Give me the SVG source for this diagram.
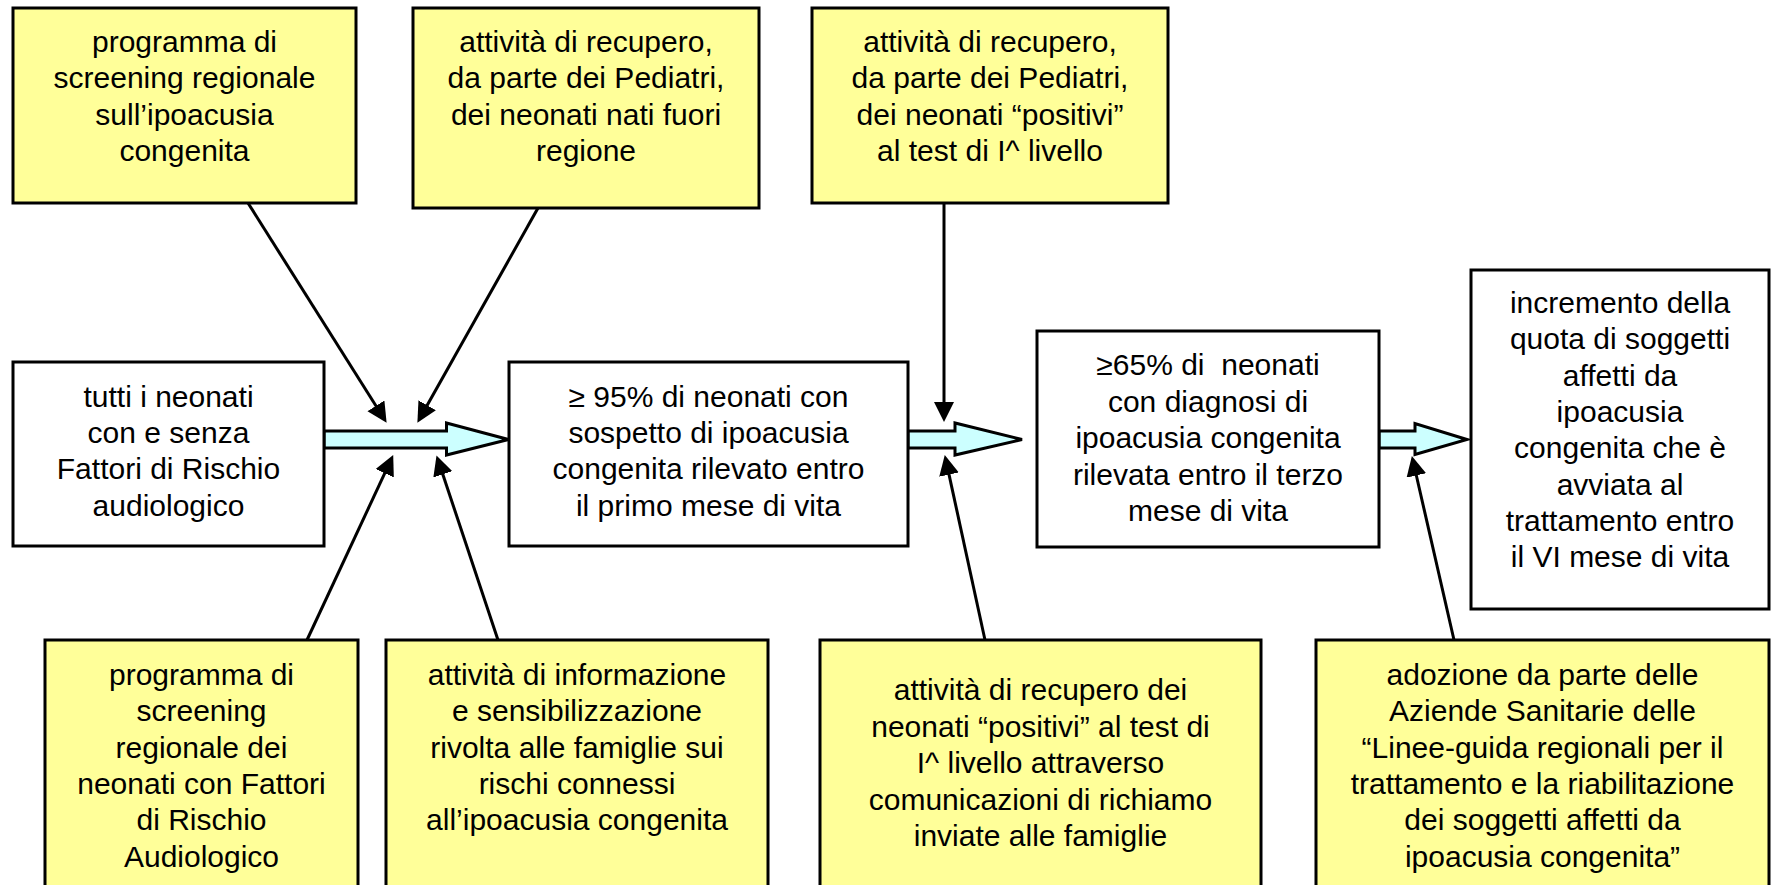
<svg xmlns="http://www.w3.org/2000/svg" width="1771" height="885" viewBox="0 0 1771 885">
<style>
.y{fill:#FFFF99;stroke:#000;stroke-width:3}
.w{fill:#FFFFFF;stroke:#000;stroke-width:3}
.t{font-family:"Liberation Sans",Arial,sans-serif;font-size:30px;fill:#000;text-anchor:middle;white-space:pre}
.ba{fill:#CCFFFF;stroke:#000;stroke-width:3;stroke-linejoin:miter}
.ln{stroke:#000;stroke-width:3;fill:none;marker-end:url(#ah)}
</style>
<defs>
<marker id="ah" markerUnits="userSpaceOnUse" markerWidth="22" markerHeight="22" refX="2" refY="10" orient="auto" viewBox="0 0 22 22">
<path d="M0,0 L20,10 L0,20 Z" fill="#000"/>
</marker>
</defs>
<rect width="1771" height="885" fill="#FFFFFF"/>
<g id="connectors">
<polygon class="ba" points="324,431 446.5,431 446.5,423 508.5,439.5 446.5,455 446.5,448 324,448"/>
<polygon class="ba" points="908,431 955,431 955,423 1022,439.5 955,455 955,448 908,448"/>
<polygon class="ba" points="1379,431 1415,431 1415,423.5 1467,439.5 1415,454.5 1415,448 1379,448"/>
<line class="ln" x1="248" y1="203" x2="377" y2="407.5"/>
<line class="ln" x1="538" y1="208" x2="426.2" y2="407"/>
<line class="ln" x1="944" y1="203" x2="944" y2="404"/>
<line class="ln" x1="307" y1="640" x2="385.6" y2="471.4"/>
<line class="ln" x1="498" y1="640" x2="442.2" y2="472.5"/>
<line class="ln" x1="985" y1="640" x2="948.6" y2="472.6"/>
<line class="ln" x1="1454" y1="640" x2="1415.9" y2="473.5"/>
</g>
<g id="n1">
<rect class="y" x="13" y="8" width="343" height="195"/>
<text class="t" x="184.5" y="52">programma di</text>
<text class="t" x="184.5" y="88.3">screening regionale</text>
<text class="t" x="184.5" y="124.6">sull’ipoacusia</text>
<text class="t" x="184.5" y="160.9">congenita</text>
</g>
<g id="n2">
<rect class="y" x="413" y="8" width="346" height="200"/>
<text class="t" x="586" y="52">attività di recupero,</text>
<text class="t" x="586" y="88.3">da parte dei Pediatri,</text>
<text class="t" x="586" y="124.6">dei neonati nati fuori</text>
<text class="t" x="586" y="160.9">regione</text>
</g>
<g id="n3">
<rect class="y" x="812" y="8" width="356" height="195"/>
<text class="t" x="990" y="52">attività di recupero,</text>
<text class="t" x="990" y="88.3">da parte dei Pediatri,</text>
<text class="t" x="990" y="124.6">dei neonati “positivi”</text>
<text class="t" x="990" y="160.9">al test di I^ livello</text>
</g>
<g id="n4">
<rect class="w" x="13" y="362" width="311" height="184"/>
<text class="t" x="168.5" y="406.7">tutti i neonati</text>
<text class="t" x="168.5" y="443">con e senza</text>
<text class="t" x="168.5" y="479.3">Fattori di Rischio</text>
<text class="t" x="168.5" y="515.6">audiologico</text>
</g>
<g id="n5">
<rect class="w" x="509" y="362" width="399" height="184"/>
<text class="t" x="708.5" y="406.7">≥ 95% di neonati con</text>
<text class="t" x="708.5" y="443">sospetto di ipoacusia</text>
<text class="t" x="708.5" y="479.3">congenita rilevato entro</text>
<text class="t" x="708.5" y="515.6">il primo mese di vita</text>
</g>
<g id="n6">
<rect class="w" x="1037" y="331" width="342" height="216"/>
<text class="t" x="1208" y="375">≥65% di  neonati</text>
<text class="t" x="1208" y="411.5">con diagnosi di</text>
<text class="t" x="1208" y="448">ipoacusia congenita</text>
<text class="t" x="1208" y="484.5">rilevata entro il terzo</text>
<text class="t" x="1208" y="521">mese di vita</text>
</g>
<g id="n7">
<rect class="w" x="1471" y="270" width="298" height="339"/>
<text class="t" x="1620" y="313">incremento della</text>
<text class="t" x="1620" y="349.3">quota di soggetti</text>
<text class="t" x="1620" y="385.6">affetti da</text>
<text class="t" x="1620" y="421.9">ipoacusia</text>
<text class="t" x="1620" y="458.2">congenita che è</text>
<text class="t" x="1620" y="494.5">avviata al</text>
<text class="t" x="1620" y="530.8">trattamento entro</text>
<text class="t" x="1620" y="567.1">il VI mese di vita</text>
</g>
<g id="n8">
<rect class="y" x="45" y="640" width="313" height="250"/>
<text class="t" x="201.5" y="685">programma di</text>
<text class="t" x="201.5" y="721.3">screening</text>
<text class="t" x="201.5" y="757.6">regionale dei</text>
<text class="t" x="201.5" y="793.9">neonati con Fattori</text>
<text class="t" x="201.5" y="830.2">di Rischio</text>
<text class="t" x="201.5" y="866.5">Audiologico</text>
</g>
<g id="n9">
<rect class="y" x="386" y="640" width="382" height="250"/>
<text class="t" x="577" y="685">attività di informazione</text>
<text class="t" x="577" y="721.3">e sensibilizzazione</text>
<text class="t" x="577" y="757.6">rivolta alle famiglie sui</text>
<text class="t" x="577" y="793.9">rischi connessi</text>
<text class="t" x="577" y="830.2">all’ipoacusia congenita</text>
</g>
<g id="n10">
<rect class="y" x="820" y="640" width="441" height="250"/>
<text class="t" x="1040.5" y="700">attività di recupero dei</text>
<text class="t" x="1040.5" y="736.5">neonati “positivi” al test di</text>
<text class="t" x="1040.5" y="773">I^ livello attraverso</text>
<text class="t" x="1040.5" y="809.5">comunicazioni di richiamo</text>
<text class="t" x="1040.5" y="846">inviate alle famiglie</text>
</g>
<g id="n11">
<rect class="y" x="1316" y="640" width="453" height="250"/>
<text class="t" x="1542.5" y="685">adozione da parte delle</text>
<text class="t" x="1542.5" y="721.3">Aziende Sanitarie delle</text>
<text class="t" x="1542.5" y="757.6">“Linee-guida regionali per il</text>
<text class="t" x="1542.5" y="793.9">trattamento e la riabilitazione</text>
<text class="t" x="1542.5" y="830.2">dei soggetti affetti da</text>
<text class="t" x="1542.5" y="866.5">ipoacusia congenita”</text>
</g>
</svg>
